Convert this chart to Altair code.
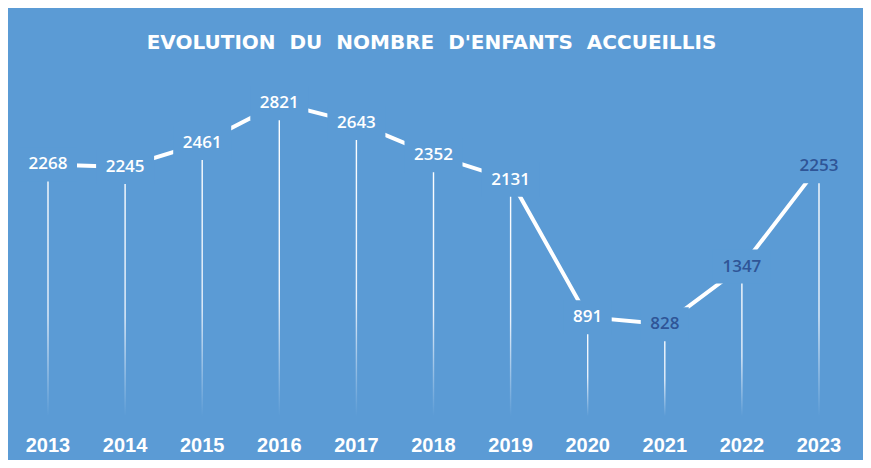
import altair as alt
import pandas as pd

years = [2013, 2014, 2015, 2016, 2017, 2018, 2019, 2020, 2021, 2022, 2023]
values = [2268, 2245, 2461, 2821, 2643, 2352, 2131, 891, 828, 1347, 2253]
label_colors = ["white"] * 8 + ["dark"] * 3
title_words = ["EVOLUTION", "DU", "NOMBRE", "D'ENFANTS", "ACCUEILLIS"]
title_text = "\u00a0\u00a0".join(title_words)

BG = "#5B9BD5"
DARK = "#2F5597"

df = pd.DataFrame({
    "year": years,
    "value": values,
    "lab": [str(v) for v in values],
    "ndig": [str(len(str(v))) for v in values],
    "col": label_colors,
})

W, H = 855, 452
Y0 = 408  # chart pixel of value 0
K = 0.1109  # px per unit
X0, STEP = 40, 77.1
xs = alt.Scale(domain=[2013 - X0 / STEP, 2013 + (W - X0) / STEP], nice=False, zero=False, padding=0)
ys = alt.Scale(domain=[-(H - Y0) / K, Y0 / K], nice=False, zero=False, padding=0)

X = alt.X("year:Q", scale=xs, axis=None)
Y = alt.Y("value:Q", scale=ys, axis=None)

base = alt.Chart(df)

grad = alt.Gradient(
    gradient="linear",
    x1=0, x2=0, y1=0, y2=1,
    stops=[
        alt.GradientStop(color="#ffffff", offset=0),
        alt.GradientStop(color="#e8f0fa", offset=0.6),
        alt.GradientStop(color=BG, offset=1),
    ],
)

drops = base.mark_rect(fill=grad, xOffset=-0.7, x2Offset=0.7).encode(
    x=X, x2="year:Q", y=Y, y2=alt.datum(0)
)

line = base.mark_line(color="white", strokeWidth=4).encode(x=X, y=Y)

path4 = "M-29,-17H29V17H-29Z"
path3 = "M-24,-17H24V17H-24Z"
masks = base.mark_point(filled=True, fill=BG, strokeWidth=0, opacity=1, size=4).encode(
    x=X, y=Y,
    shape=alt.Shape("ndig:N", scale=alt.Scale(domain=["3", "4"], range=[path3, path4]), legend=None),
)

labels = base.mark_text(font="Open Sans", fontSize=17, fontWeight=600, baseline="middle", align="center").encode(
    x=X, y=Y, text="lab:N",
    color=alt.Color("col:N", scale=alt.Scale(domain=["white", "dark"], range=["#ffffff", DARK]), legend=None),
)

year_labels = base.mark_text(font="Liberation Sans", fontSize=20, fontWeight="bold", color="white",
                             baseline="middle", align="center").encode(
    x=X, y=alt.value(438), text="year:N"
)

title = alt.Chart(pd.DataFrame({"t": [title_text]})).mark_text(
    font="DejaVu Sans", fontSize=20, fontWeight="bold", color="white", align="center", baseline="middle"
).encode(x=alt.value(423.5), y=alt.value(35), text="t:N")

chart = alt.layer(drops, line, masks, labels, year_labels, title).properties(
    width=W, height=H,
    autosize=alt.AutoSizeParams(type="fit", contains="padding"),
    padding=0,
    background=BG,
).configure_view(stroke=None)

chart.save("out.html", embed_options={"renderer": "svg", "actions": False})
